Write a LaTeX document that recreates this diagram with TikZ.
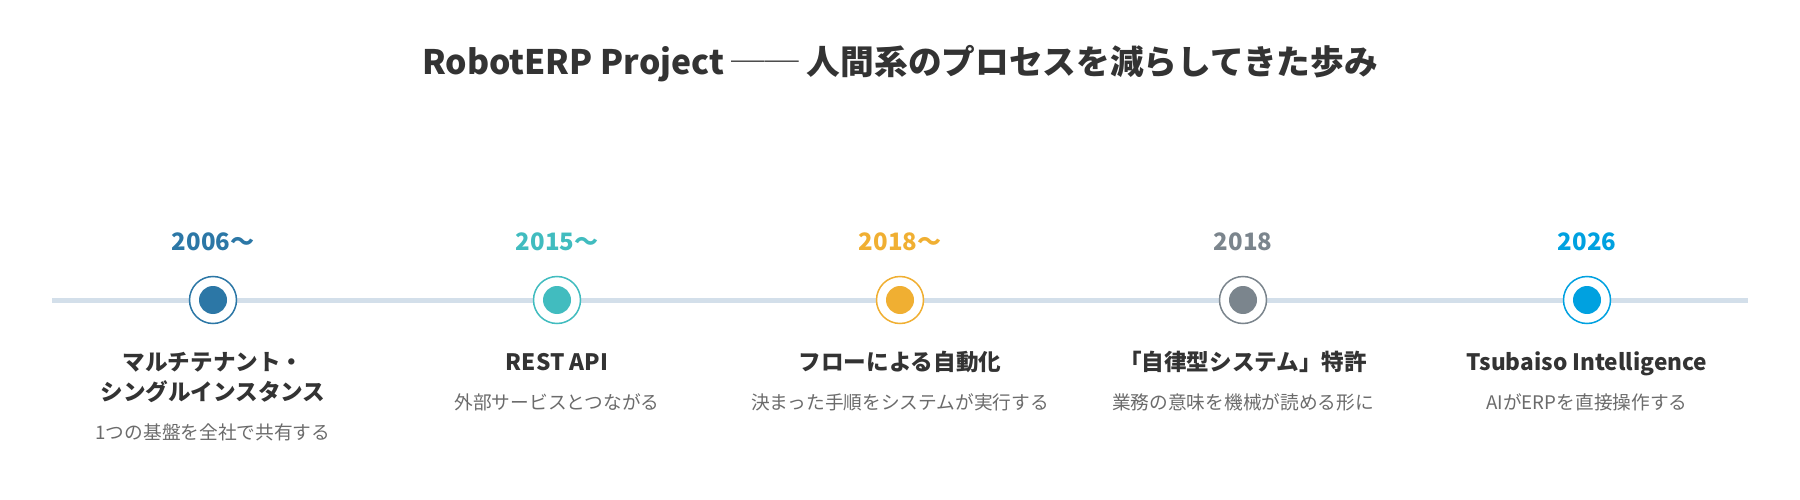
\documentclass[tikz,border=0pt]{standalone}
\usepackage{fontspec}
\setmainfont{Noto Sans CJK JP}
\usetikzlibrary{calc}
\definecolor{deepblue}{HTML}{2C77A6}
\definecolor{tealgreen}{HTML}{41BCBF}
\definecolor{amber}{HTML}{F0AF32}
\definecolor{slate}{HTML}{7B858D}
\definecolor{skyblue}{HTML}{00A1E0}
\definecolor{railcol}{HTML}{D3DFEA}
\definecolor{ink}{HTML}{333333}
\definecolor{muted}{HTML}{6B6B6B}
\tikzset{
	ring/.style={circle, fill=white, line width=1.5pt, minimum size=47pt, inner sep=0pt},
	dot/.style={circle, minimum size=28pt, inner sep=0pt},
	year/.style={anchor=base, inner sep=0pt, font=\fontsize{24}{28}\selectfont\bfseries},
	headline/.style={anchor=base, inner sep=0pt, align=center, text=ink, font=\fontsize{22.6}{30}\selectfont\bfseries},
	caption/.style={anchor=base, inner sep=0pt, text=muted, font=\fontsize{18.7}{22}\selectfont}
}
\newcommand{\milestone}[7] % name, x in px, colour, year, title, title baseline, caption
{
	% ring with dot
	\node[ring, draw=#3] (#1) at (#2,300) {};
	\node[dot, fill=#3] (#1-dot) at (#1) {};
	% year above the rail
	\node[year, text=#3] (#1-year) at (#2,250) {#4};
	% title and caption below
	\node[headline] (#1-title) at (#2,#6) {#5};
	\node[caption] (#1-caption) at ($(#1-title.base)+(0,39)$) {#7};
}

\begin{document}
\begin{tikzpicture}[x=1pt, y=-1pt]
	% 1800 x 500 px
	\useasboundingbox (0,0) rectangle (1800,500);
	\node[anchor=base, inner sep=0pt, text=ink, font=\fontsize{33.7}{40}\selectfont\bfseries] (heading) at (900,75)
		{RobotERP Project ── 人間系のプロセスを減らしてきた歩み};
	
	% rail
	\coordinate (railstart) at (52,300);
	\coordinate (railend) at (1748,300);
	\draw[railcol, line width=5pt] (railstart) -- (railend);
	
	\milestone{mt}{213}{deepblue}{2006〜}{マルチテナント・\\シングルインスタンス}{400}{1つの基盤を全社で共有する};
	\milestone{api}{557}{tealgreen}{2015〜}{REST API}{370}{外部サービスとつながる};
	\milestone{flow}{900}{amber}{2018〜}{フローによる自動化}{370}{決まった手順をシステムが実行する};
	\milestone{patent}{1243}{slate}{2018}{「自律型システム」特許}{370}{業務の意味を機械が読める形に};
	\milestone{ai}{1587}{skyblue}{2026}{Tsubaiso Intelligence}{370}{AIがERPを直接操作する};
	
\end{tikzpicture}
\end{document}
